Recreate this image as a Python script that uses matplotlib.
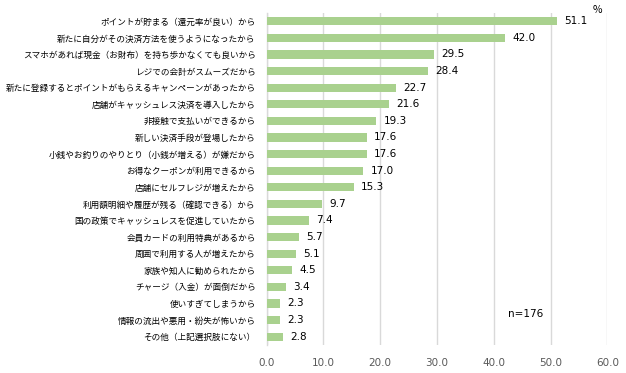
import matplotlib
matplotlib.use("Agg")
import matplotlib.pyplot as plt

plt.rcParams['font.family'] = ['Noto Sans CJK JP', 'DejaVu Sans']

categories = [
    "ポイントが貯まる（還元率が良い）から",
    "新たに自分がその決済方法を使うようになったから",
    "スマホがあれば現金（お財布）を持ち歩かなくても良いから",
    "レジでの会計がスムーズだから",
    "新たに登録するとポイントがもらえるキャンペーンがあったから",
    "店舗がキャッシュレス決済を導入したから",
    "非接触で支払いができるから",
    "新しい決済手段が登場したから",
    "小銭やお釣りのやりとり（小銭が増える）が嫌だから",
    "お得なクーポンが利用できるから",
    "店舗にセルフレジが増えたから",
    "利用額明細や履歴が残る（確認できる）から",
    "国の政策でキャッシュレスを促進していたから",
    "会員カードの利用特典があるから",
    "周囲で利用する人が増えたから",
    "家族や知人に勧められたから",
    "チャージ（入金）が面倒だから",
    "使いすぎてしまうから",
    "情報の流出や悪用・紛失が怖いから",
    "その他（上記選択肢にない）",
]
values = [51.1, 42.0, 29.5, 28.4, 22.7, 21.6, 19.3, 17.6, 17.6, 17.0,
          15.3, 9.7, 7.4, 5.7, 5.1, 4.5, 3.4, 2.3, 2.3, 2.8]
xticks = [0, 10, 20, 30, 40, 50, 60]

fig = plt.figure(figsize=(6.26, 3.73), dpi=100)
ax = fig.add_axes([266.7/626, 1-345/373, (607.3-266.7)/626, (345-13)/373])

n = len(categories)
ypos = list(range(n))
ax.barh(ypos, values, height=0.5, color='#A9D18E', zorder=3)
for y, v in zip(ypos, values):
    ax.text(v + 1.3, y, f"{v:.1f}", va='center', ha='left', fontsize=7.5,
            color='#000000', family=['DejaVu Sans'])

ax.set_ylim(n - 0.5, -0.5)
ax.set_yticks(ypos)
ax.set_yticklabels(categories, fontsize=6.2, color='#000000')
ax.set_xlim(0, 60)
ax.set_xticks(xticks)
ax.set_xticklabels([f"{t:.1f}" for t in xticks], fontsize=7.5, color='#595959',
                   family=['DejaVu Sans'])
ax.tick_params(axis='both', length=0)
ax.tick_params(axis='y', pad=8)
ax.tick_params(axis='x', pad=9)
ax.grid(axis='x', color='#D9D9D9', linewidth=1, zorder=0)
for s in ['top', 'right', 'bottom']:
    ax.spines[s].set_visible(False)
ax.spines['left'].set_color('#D9D9D9')
ax.spines['left'].set_linewidth(1)

fig.text(597/626, 1-10/373, "%", fontsize=7.5, ha='center', va='center', color='#000000')
ax.text(42.5, 17.65, "n=176", fontsize=7.5, ha='left', va='center', color='#000000',
        family=['DejaVu Sans'])

fig.savefig("out.png", dpi=100)
